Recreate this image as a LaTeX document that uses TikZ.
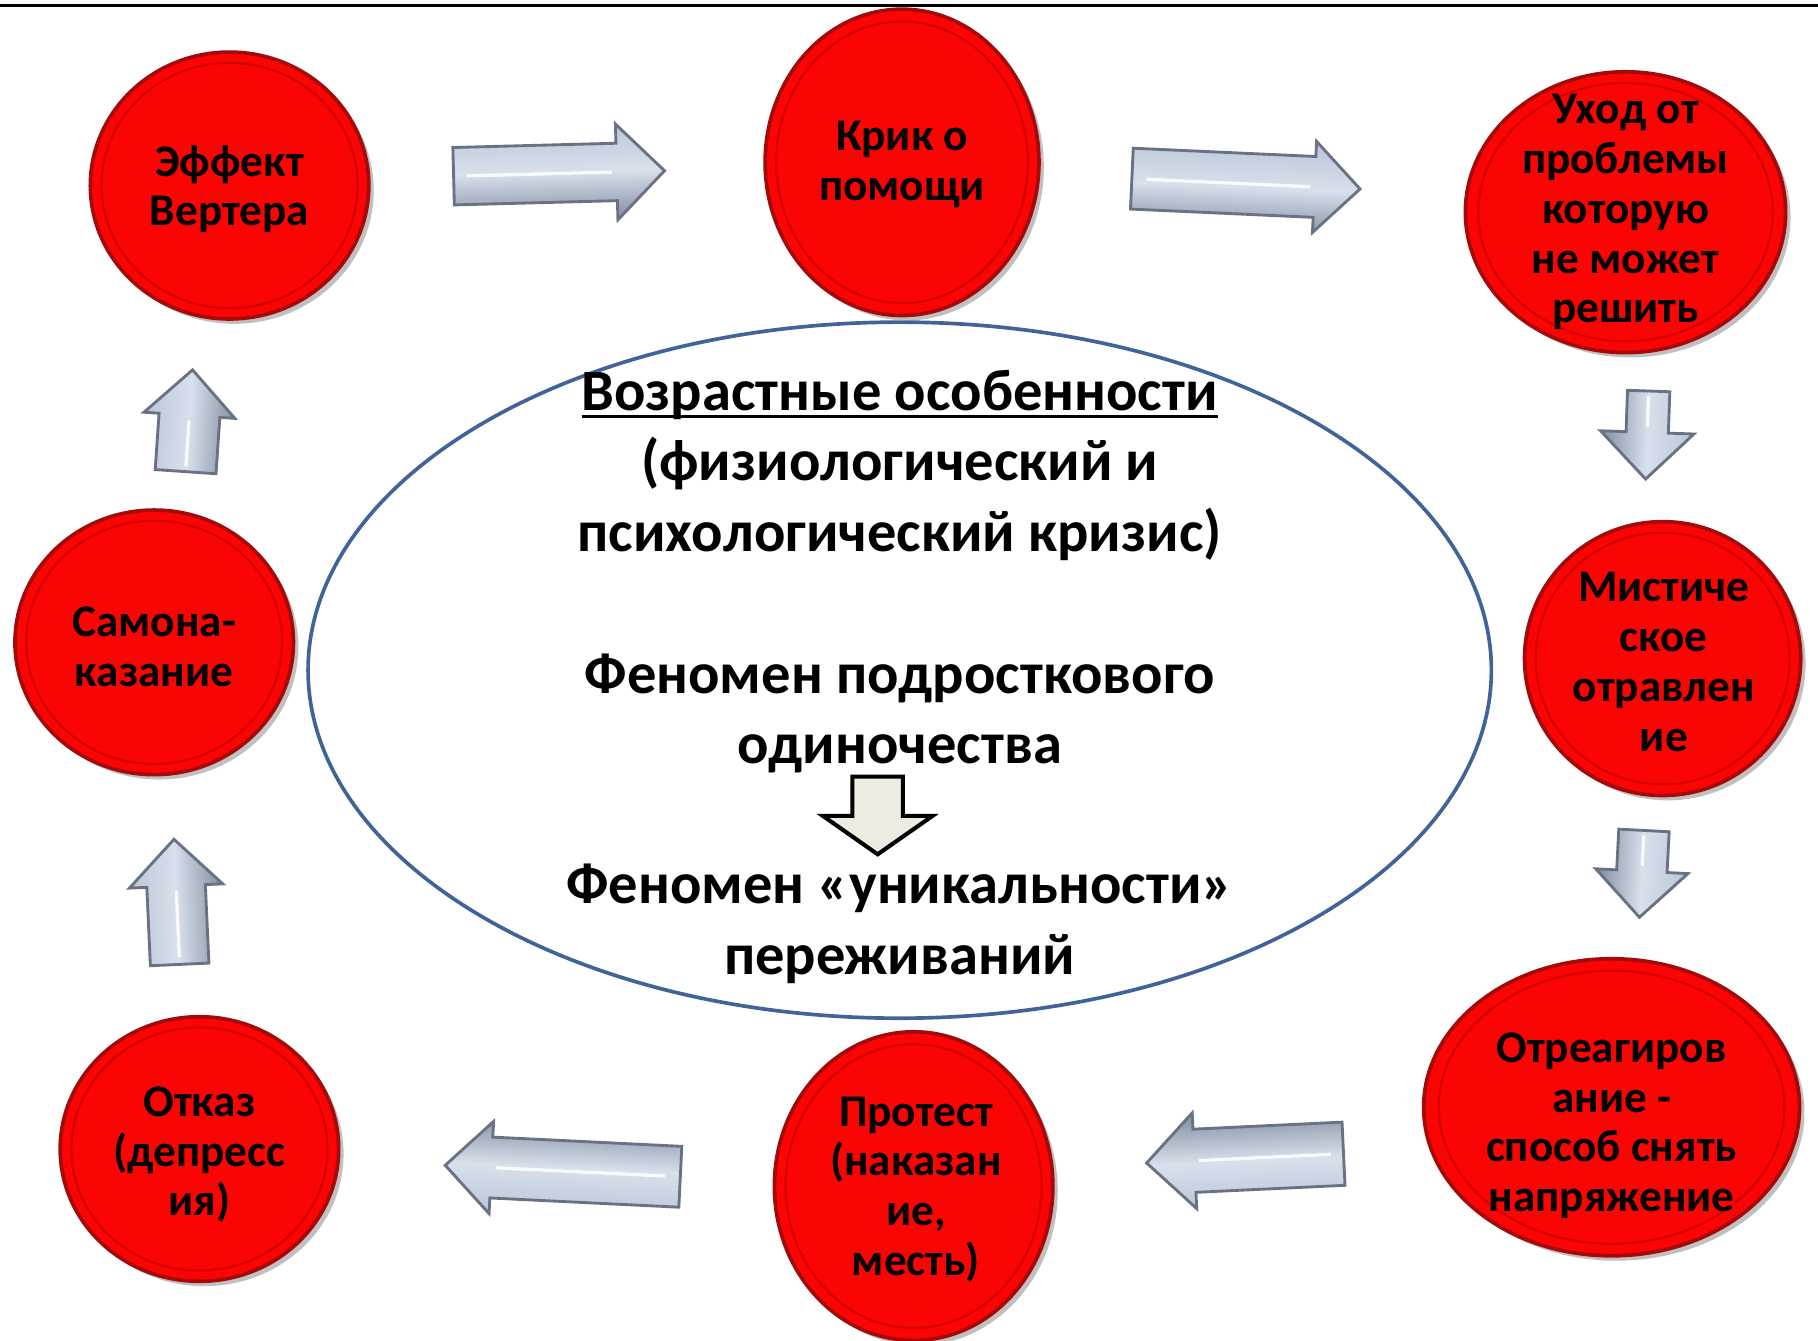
\documentclass[tikz,border=0pt]{standalone}
\usepackage{fontspec}
\setmainfont{Carlito}
\usetikzlibrary{shapes.geometric,shapes.arrows,shadows,calc}
\definecolor{redfill}{RGB}{250,4,4}
\definecolor{rededge}{RGB}{165,10,10}
\definecolor{redring}{RGB}{212,0,0}
\definecolor{ovalblue}{RGB}{64,100,152}
\definecolor{arrtop}{RGB}{186,198,214}
\definecolor{arrmid}{RGB}{216,224,235}
\definecolor{arrbot}{RGB}{128,140,160}
\definecolor{arredge}{RGB}{104,114,132}
\definecolor{beige}{RGB}{238,236,225}
\newcommand{\myuline}[1]{{\setbox0\hbox{#1}\rlap{\rule[-1.9pt]{\wd0}{0.85pt}}\box0}}
\begin{document}
\begin{tikzpicture}[x=0.01cm,y=-0.01cm,
  bubble/.style={ellipse, fill=redfill, draw=rededge, line width=0.9pt, inner sep=0pt,
    drop shadow={shadow xshift=1.2pt, shadow yshift=-1.2pt, opacity=0.35, fill=black!70}},
  ring/.style={draw=redring, line width=0.5pt},
  btext/.style={font=\fontsize{11.1}{12.2}\selectfont\bfseries, align=center, text=black, inner sep=0pt},
  ctext/.style={font=\fontsize{14.35}{17.35}\selectfont\bfseries, align=center, inner sep=0pt},
  blk/.style n args={3}{single arrow, anchor=tail, minimum width=1pt,
    minimum height={#1*0.01cm}, inner xsep=0pt, inner ysep={#2*0.005cm},
    single arrow head extend={(#3-#2)*0.005cm}, single arrow head indent=0pt,
    top color=arrtop, bottom color=arrbot, middle color=arrmid,
    draw=arredge, line width=0.7pt},
  shine/.style={white, line width=0.8pt, opacity=0.85},
]
\useasboundingbox (0,0) rectangle (1568,1156);
\fill[white] (0,0) rectangle (1568,1156);
\draw[line width=0.7pt] (0,5) -- (1568,5);

% central oval
\node[ellipse, draw=ovalblue, line width=0.9pt, minimum width=10.2cm, minimum height=6cm, inner sep=0pt] (core) at (776,578) {};

% red bubbles
\foreach \n/\x/\y/\rx/\ry in {c1/198/160/120/115, c2/778/140/118/132, c3/1402/183/138/121,
  c4/1434/568/119/118, c5/1390/955/162/128, c6/788/1023/120/133, c7/172/991/120/114, c8/133/554/120/114}{
  \node[bubble, minimum width={\rx*0.02cm}, minimum height={\ry*0.02cm}] (\n) at (\x,\y) {};
  \draw[ring] (\n.center) ellipse [x radius={0.92*\rx}, y radius={0.92*\ry}];
}

\node[btext] (t1) at (198,163) {Эффект\\Вертера};
\node[btext] (t2) at (778,142) {Крик о\\помощи};
\node[btext] (t3) at (1402,183) {Уход от\\проблемы\\которую\\не может\\решить};
\node[btext] (t4) at (1435,571) {Мистиче\\ское\\отравлен\\ие};
\node[btext] (t5) at (1390,971) {Отреагиров\\ание -\\способ снять\\напряжение};
\node[btext] (t6) at (790,1026) {Протест\\(наказан\\ие,\\месть)};
\node[btext] (t7) at (172,996) {Отказ\\(депресс\\ия)};
\node[btext] (t8) at (133,558) {Самона-\\казание};

% block arrows: name/tail x/tail y/rotation/length/shaft/head
\foreach \n/\x/\y/\r/\L/\s/\h in {a1/390/152/1.5/182/47/80, a2/975/154/-2.6/197/50/76,
  a3/1422/336/-92/76/34/78, a4/1418/715/-93/75/41/77, a5/1160/995/182.7/170/52/80,
  a6/588/1015/177.2/203/50/77, a7/155/833/92.6/108/48/78, a8/160/408/86.1/88/50/76}{
  \node[blk={\L}{\s}{\h}, rotate=\r, shading angle=\r] (\n) at (\x,\y) {};
  \pgfmathsetmacro\f{(\L-0.5*\h-6)/\L}
  \draw[shine] ($(\n.tail)!0.07!(\n.tip)$) -- ($(\n.tail)!\f!(\n.tip)$);
}

% central text
\node[ctext] (ct) at (776,493) {\myuline{Возрастные особенности}\\(физиологический и\\психологический кризис)\\[17.35pt]Феномен подросткового\\одиночества};
\node[single arrow, anchor=tail, rotate=-90, minimum width=1pt, minimum height=0.67cm,
  inner xsep=0pt, inner ysep=0.2cm, single arrow head extend=0.255cm, single arrow head indent=0pt,
  single arrow tip angle=110, fill=beige, draw=black, line width=1pt] (ca) at (757,668) {};
\node[ctext] (cb) at (776,797) {Феномен «уникальности»\\переживаний};
\end{tikzpicture}
\end{document}
